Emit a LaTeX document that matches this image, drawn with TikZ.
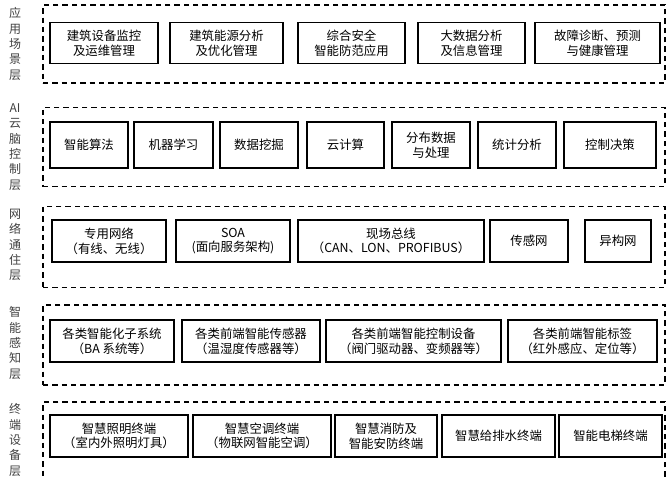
\documentclass[tikz,border=0pt]{standalone}
\usepackage{fontspec}
\setmainfont{Noto Sans CJK SC}
\usetikzlibrary{positioning}

\tikzset{
  blk/.style={draw, thick, align=center, inner sep=1pt, font=\fontsize{9.3}{11}\selectfont},
  lay/.style={draw, thick, dashed, dash pattern=on 4pt off 3pt},
  side/.style={align=center, font=\fontsize{9}{11.5}\selectfont, text=black!75}
}

\begin{document}
\begin{tikzpicture}[x=0.75pt, y=-0.75pt]
\useasboundingbox (0,0) rectangle (670,478);

% layers
\node (L1) at (354,44)  [lay, minimum width=622*0.75pt, minimum height=78*0.75pt] {};
\node (L2) at (354,147) [lay, minimum width=622*0.75pt, minimum height=79*0.75pt] {};
\node (L3) at (354,247) [lay, minimum width=622*0.75pt, minimum height=81*0.75pt] {};
\node (L4) at (354,345) [lay, minimum width=622*0.75pt, minimum height=80*0.75pt] {};
\node (L5) at (354,441) [lay, minimum width=622*0.75pt, minimum height=78*0.75pt] {};

\node (s1) at (15,44)  [side] {应\\用\\场\\景\\层};
\node (s2) at (15,147) [side] {AI\\云\\脑\\控\\制\\层};
\node (s3) at (15,245) [side] {网\\络\\通\\住\\层};
\node (s4) at (15,343) [side] {智\\能\\感\\知\\层};
\node (s5) at (15,440) [side] {终\\端\\设\\备\\层};

% application
\node (a1) at (104,43)   [blk, minimum width=108*0.75pt, minimum height=41*0.75pt] {建筑设备监控\\及运维管理};
\node (a2) at (226.5,43) [blk, minimum width=113*0.75pt, minimum height=41*0.75pt] {建筑能源分析\\及优化管理};
\node (a3) at (351.5,43) [blk, minimum width=107*0.75pt, minimum height=41*0.75pt] {综合安全\\智能防范应用};
\node (a4) at (471.5,43) [blk, minimum width=107*0.75pt, minimum height=41*0.75pt] {大数据分析\\及信息管理};
\node (a5) at (597.5,43) [blk, minimum width=125*0.75pt, minimum height=41*0.75pt] {故障诊断、预测\\与健康管理};

% AI cloud
\node (b1) at (89,145)   [blk, minimum width=78*0.75pt, minimum height=46*0.75pt] {智能算法};
\node (b2) at (173.5,145) [blk, minimum width=79*0.75pt, minimum height=46*0.75pt] {机器学习};
\node (b3) at (259,145)  [blk, minimum width=78*0.75pt, minimum height=46*0.75pt] {数据挖掘};
\node (b4) at (345.5,145) [blk, minimum width=77*0.75pt, minimum height=46*0.75pt] {云计算};
\node (b5) at (431,145)  [blk, minimum width=78*0.75pt, minimum height=46*0.75pt] {分布数据\\与处理};
\node (b6) at (517,145)  [blk, minimum width=78*0.75pt, minimum height=46*0.75pt] {统计分析};
\node (b7) at (610,145)  [blk, minimum width=92*0.75pt, minimum height=46*0.75pt] {控制决策};

% network
\node (c1) at (109,241) [blk, minimum width=114*0.75pt, minimum height=42*0.75pt] {专用网络\\（有线、无线）};
\node (c2) at (233,241) [blk, minimum width=114*0.75pt, minimum height=42*0.75pt] {SOA\\(面向服务架构)};
\node (c3) at (391,241) [blk, minimum width=186*0.75pt, minimum height=42*0.75pt] {现场总线\\（CAN、LON、PROFIBUS）};
\node (c4) at (529,241) [blk, minimum width=78*0.75pt, minimum height=42*0.75pt] {传感网};
\node (c5) at (618,241) [blk, minimum width=66*0.75pt, minimum height=42*0.75pt] {异构网};

% sensing
\node (d1) at (112,341)   [blk, minimum width=124*0.75pt, minimum height=42*0.75pt] {各类智能化子系统\\（BA 系统等）};
\node (d2) at (251,341)   [blk, minimum width=138*0.75pt, minimum height=42*0.75pt] {各类前端智能传感器\\（温湿度传感器等）};
\node (d3) at (413.5,341) [blk, minimum width=175*0.75pt, minimum height=42*0.75pt] {各类前端智能控制设备\\（阀门驱动器、变频器等）};
\node (d4) at (582.5,341) [blk, minimum width=149*0.75pt, minimum height=42*0.75pt] {各类前端智能标签\\（红外感应、定位等）};

% terminal
\node (e1) at (119,436)   [blk, minimum width=138*0.75pt, minimum height=42*0.75pt] {智慧照明终端\\（室内外照明灯具）};
\node (e2) at (262,436)   [blk, minimum width=138*0.75pt, minimum height=42*0.75pt] {智慧空调终端\\（物联网智能空调）};
\node (e3) at (386,436)   [blk, minimum width=102*0.75pt, minimum height=42*0.75pt] {智慧消防及\\智能安防终端};
\node (e4) at (498.5,436) [blk, minimum width=113*0.75pt, minimum height=42*0.75pt] {智慧给排水终端};
\node (e5) at (610.5,436) [blk, minimum width=103*0.75pt, minimum height=42*0.75pt] {智能电梯终端};
\end{tikzpicture}
\end{document}
